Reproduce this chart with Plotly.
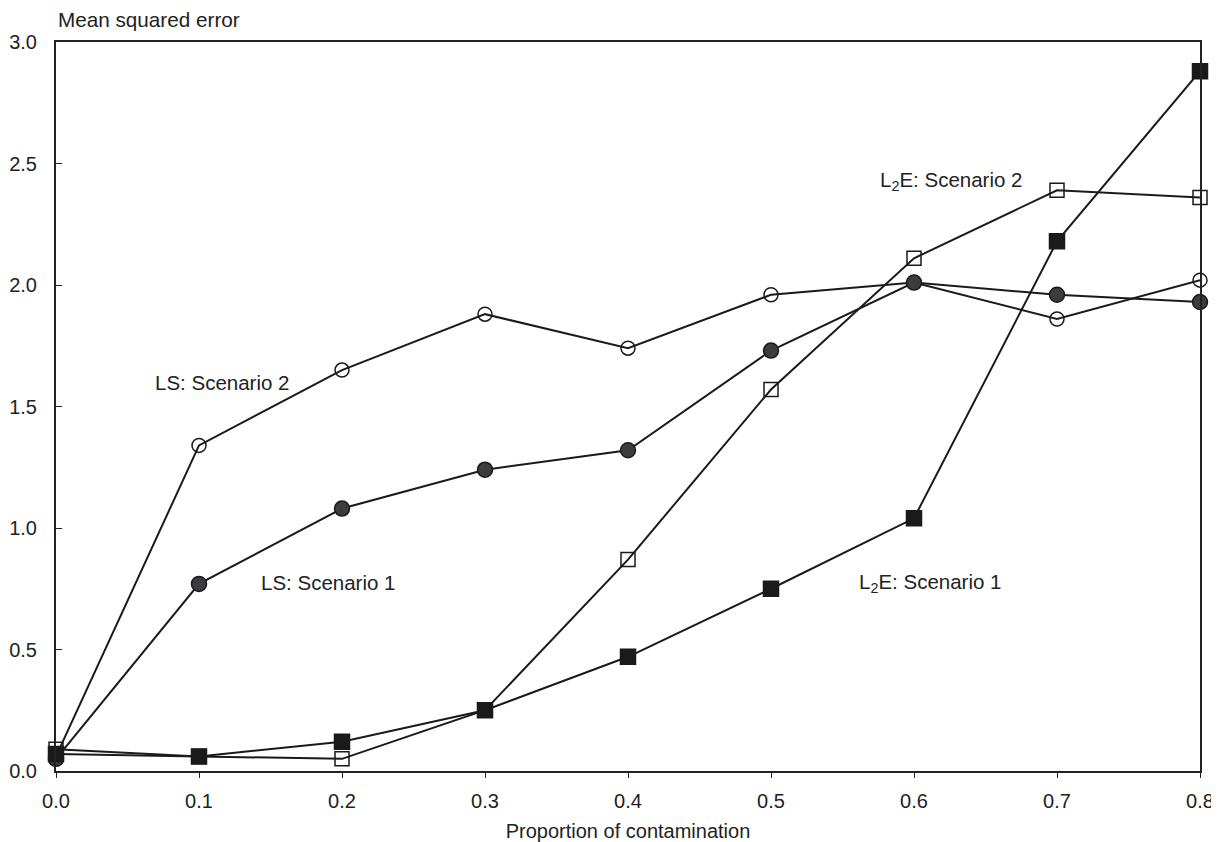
import plotly.graph_objects as go

x = [0.0, 0.1, 0.2, 0.3, 0.4, 0.5, 0.6, 0.7, 0.8]
ls_s2 = [0.06, 1.34, 1.65, 1.88, 1.74, 1.96, 2.01, 1.86, 2.02]
ls_s1 = [0.05, 0.77, 1.08, 1.24, 1.32, 1.73, 2.01, 1.96, 1.93]
l2e_s2 = [0.09, 0.06, 0.05, 0.25, 0.87, 1.57, 2.11, 2.39, 2.36]
l2e_s1 = [0.07, 0.06, 0.12, 0.25, 0.47, 0.75, 1.04, 2.18, 2.88]

FONT = "Liberation Sans, Arial, Helvetica, sans-serif"
TXT = "#222222"
fig = go.Figure()

def add(y, symbol, fill, size, name):
    fig.add_trace(go.Scatter(
        x=x, y=y, mode="lines+markers", name=name,
        line=dict(color="#1a1a1a", width=2),
        marker=dict(symbol=symbol, size=size, color=fill,
                    line=dict(color="#1a1a1a", width=1.5)),
        cliponaxis=False, showlegend=False))

add(ls_s2, "circle-open", "#1a1a1a", 14, "LS: Scenario 2")
add(ls_s1, "circle", "#3c3c3e", 15, "LS: Scenario 1")
add(l2e_s2, "square-open", "#1a1a1a", 14, "L2E: Scenario 2")
add(l2e_s1, "square", "#1a1a1a", 15, "L2E: Scenario 1")

labels = [
    (0.116, 1.60, "LS: Scenario 2"),
    (0.190, 0.774, "LS: Scenario 1"),
    (0.611, 0.774, "L<sub>2</sub>E: Scenario 1"),
    (0.626, 2.43, "L<sub>2</sub>E: Scenario 2"),
]
for lx, ly, t in labels:
    fig.add_annotation(x=lx, y=ly, text=t, showarrow=False,
                       font=dict(family=FONT, size=20.5, color=TXT))

fig.add_annotation(xref="paper", yref="paper", x=0.0, y=1.0, yshift=9,
                   xanchor="left", yanchor="bottom", text="Mean squared error",
                   showarrow=False, font=dict(family=FONT, size=20.7, color=TXT))

fig.update_layout(
    width=1211, height=834,
    margin=dict(l=48, r=19, t=34, b=71, autoexpand=False),
    plot_bgcolor="white", paper_bgcolor="white",
    font=dict(family=FONT, size=20, color=TXT),
    xaxis=dict(range=[0, 0.8], tickvals=x, ticktext=[f"{v:.1f}" for v in x],
               automargin=False,
               showgrid=False, zeroline=False, showline=True, mirror=True,
               linecolor="#222", linewidth=2, ticks="outside", ticklen=5,
               tickcolor="#222", tickwidth=1, ticklabelstandoff=6,
               title=dict(text="Proportion of contamination", standoff=17,
                          font=dict(family=FONT, size=20))),
    yaxis=dict(range=[0, 3], tickvals=[0, 0.5, 1, 1.5, 2, 2.5, 3],
               ticktext=["0.0", "0.5", "1.0", "1.5", "2.0", "2.5", "3.0"],
               automargin=False,
               showgrid=False, zeroline=False, showline=True, mirror=True,
               linecolor="#222", linewidth=2, ticks="inside", ticklen=6,
               tickcolor="#222", tickwidth=1, ticklabelstandoff=13),
)

fig.write_html("out.html")
